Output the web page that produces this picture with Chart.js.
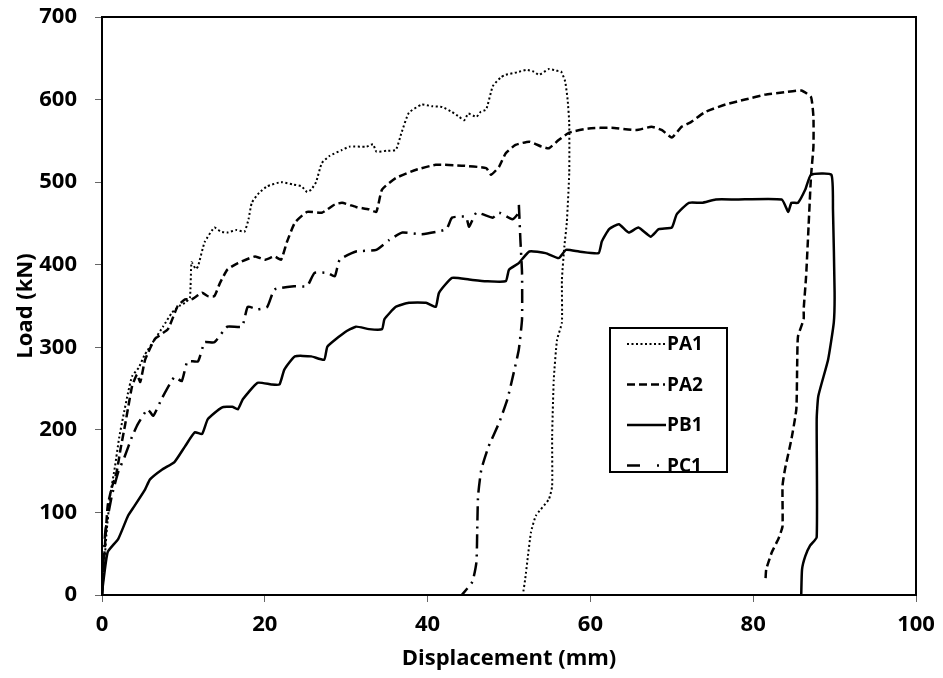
<!DOCTYPE html>
<html>
<head>
<meta charset="utf-8">
<script src="https://cdn.jsdelivr.net/npm/chart.js@4/dist/chart.umd.min.js"></script>
<style>
  html, body { margin: 0; padding: 0; background: #fff; }
  canvas { display: block; }
</style>
</head>
<body>
<canvas id="myChart" width="943" height="678"></canvas>
<script>
const ctx = document.querySelector('#myChart');

const seriesNames = ['PA1', 'PA2', 'PB1', 'PC1']

// displacement (mm) / load (kN) pairs for each specimen
const pa1Disp = [0, 0.3, 0.6, 1.0, 1.6, 2.1, 2.6, 3.2, 3.7, 4.5, 5.2, 6.5, 7.5, 8.6, 9.5, 10.2, 10.8, 11.0, 11.5, 11.8, 12.6, 13.8, 14.6, 15.4, 16.5, 17.5, 18.0, 18.4, 19.3, 20.3, 22.0, 23.5, 24.5, 25.2, 25.7, 26.3, 27.0, 28.0, 29.5, 30.4, 32.5, 33.3, 33.7, 35.0, 36.1, 36.8, 37.7, 39.3, 40.5, 41.8, 43.0, 43.9, 44.5, 45.0, 46.0, 46.5, 47.2, 48.0, 49.0, 49.6, 51.0, 52.1, 53.0, 53.7, 54.9, 55.8, 56.4, 56.9, 57.2, 57.4, 57.4, 57.1, 56.8, 56.5, 56.5, 55.9, 55.5, 55.3, 55.3, 54.9, 53.3, 52.7, 52.3, 52.0, 51.7]
const pa1Load = [0, 40, 80, 120, 156, 190, 216, 245, 265, 275, 290, 310, 325, 342, 350, 354, 360, 403, 395, 398, 427, 445, 440, 439, 442, 440, 455, 475, 487, 495, 500, 497, 495, 488, 491, 500, 523, 532, 539, 543, 543, 546, 537, 538, 539, 560, 584, 594, 592, 591, 585, 579, 575, 583, 579, 585, 588, 616, 627, 630, 633, 636, 634, 630, 637, 635, 634, 622, 600, 572, 511, 451, 422, 382, 330, 309, 261, 192, 132, 116, 96, 76, 45, 20, 0]

const pa2Disp = [0, 0.3, 0.7, 1.2, 1.8, 2.3, 2.8, 3.3, 3.7, 4.3, 4.7, 5.3, 6.5, 8.1, 9.3, 10.2, 11.0, 12.3, 13.0, 13.8, 14.5, 15.4, 16.7, 18.8, 20.0, 21.2, 22.0, 22.7, 23.7, 25.2, 27.0, 28.6, 29.5, 31.2, 32.8, 33.7, 34.4, 36.1, 38.6, 41.0, 44.2, 47.2, 47.8, 48.8, 49.6, 50.8, 52.5, 54.0, 54.9, 56.1, 57.4, 59.8, 62.6, 65.6, 67.5, 68.8, 70.0, 71.2, 72.4, 74.1, 76.6, 79.0, 81.5, 83.9, 85.9, 87.1, 87.4, 87.4, 87.1, 86.8, 86.5, 86.2, 86.2, 85.5, 85.4, 85.3, 84.7, 83.9, 83.6, 83.6, 83.1, 82.3, 81.6, 81.5]
const pa2Load = [0, 50, 108, 130, 149, 178, 204, 232, 253, 267, 258, 285, 310, 322, 350, 358, 358, 366, 362, 362, 378, 394, 402, 410, 406, 410, 406, 427, 451, 464, 463, 473, 475, 470, 467, 464, 491, 505, 515, 521, 520, 517, 509, 519, 535, 545, 549, 543, 541, 551, 560, 565, 566, 563, 567, 563, 554, 567, 573, 585, 594, 600, 606, 609, 611, 603, 579, 543, 507, 446, 386, 346, 334, 313, 277, 225, 189, 152, 132, 83, 68, 52, 31, 16]

const pb1Disp = [0, 0.1, 0.7, 2.0, 3.2, 4.0, 5.3, 5.9, 7.4, 8.9, 10.2, 11.4, 12.3, 13.0, 14.7, 16.0, 16.7, 17.3, 19.1, 20.8, 21.8, 22.4, 23.7, 25.7, 27.3, 27.7, 29.8, 31.2, 32.8, 34.4, 34.7, 36.1, 37.7, 39.8, 41.0, 41.4, 43.0, 45.1, 47.2, 49.6, 50.0, 51.2, 52.5, 54.5, 56.1, 57.0, 58.6, 61.0, 61.4, 62.3, 63.5, 64.7, 65.9, 67.4, 68.4, 70.0, 70.6, 72.1, 73.7, 75.4, 77.8, 83.5, 84.3, 84.7, 85.5, 86.4, 87.1, 89.6, 89.8, 90.0, 89.9, 89.2, 88.0, 87.8, 87.8, 87.0, 86.4, 86.0, 85.9]
const pb1Load = [0, 11, 52, 68, 96, 108, 128, 140, 152, 161, 180, 197, 195, 213, 227, 228, 225, 237, 257, 255, 255, 273, 289, 289, 285, 301, 318, 325, 322, 322, 334, 349, 354, 354, 349, 366, 384, 382, 380, 380, 394, 402, 416, 414, 408, 418, 416, 414, 428, 443, 449, 439, 445, 434, 443, 445, 461, 475, 475, 479, 479, 479, 464, 475, 475, 491, 509, 509, 467, 366, 330, 285, 241, 213, 70, 60, 47, 31, 0]

const pc1Disp = [0, 0.4, 1.2, 2.0, 2.8, 3.7, 4.4, 5.6, 6.3, 7.4, 8.9, 9.8, 10.5, 11.8, 12.6, 13.8, 15.4, 17.2, 17.9, 19.1, 20.3, 21.2, 23.7, 25.2, 26.1, 27.7, 28.6, 29.2, 31.2, 33.7, 35.3, 36.9, 39.3, 42.3, 43.0, 44.7, 45.1, 46.0, 48.0, 48.8, 50.4, 51.2, 51.2, 51.4, 51.6, 51.6, 51.2, 50.6, 49.8, 48.8, 47.5, 46.6, 46.2, 46.1, 46.0, 45.5, 44.2]
const pc1Load = [0, 76, 120, 149, 168, 192, 207, 225, 217, 239, 264, 259, 283, 283, 306, 306, 325, 325, 349, 346, 349, 370, 374, 374, 390, 390, 386, 406, 416, 418, 430, 439, 437, 443, 457, 458, 446, 463, 457, 463, 455, 463, 475, 430, 390, 334, 297, 270, 237, 209, 180, 152, 120, 80, 40, 16, 0]

const xTicks = [0, 20, 40, 60, 80, 100]
const yTicks = [0, 100, 200, 300, 400, 500, 600, 700]

const dashes = [[2, 2.5], [8, 4], [], [14, 6, 2, 6]]
const legendDashes = [[2, 2.5], [8, 4, 8, 4, 8, 4, 2, 100], [], [13, 17, 2, 100]]
const widths = [2, 2.5, 2.5, 2.5]

function toPoints(xs, ys) {
  return xs.map((x, i) => ({ x: x, y: ys[i] }))
}

const curves = [
  toPoints(pa1Disp, pa1Load),
  toPoints(pa2Disp, pa2Load),
  toPoints(pb1Disp, pb1Load),
  toPoints(pc1Disp, pc1Load)
]

const font = { family: '"Open Sans", sans-serif', weight: 'bold', size: 22 }

// box around the whole plot area
const frame = {
  id: 'frame',
  afterDraw(chart) {
    const { ctx, chartArea: a } = chart
    ctx.save()
    ctx.strokeStyle = '#000'
    ctx.lineWidth = 2
    ctx.strokeRect(a.left, a.top, a.right - a.left, a.bottom - a.top)
    ctx.restore()
  }
}

// legend drawn inside the plot, with a sample of each line style
const insideLegend = {
  id: 'insideLegend',
  afterDraw(chart) {
    const { ctx } = chart
    const x0 = 610, y0 = 328, w = 117, h = 144
    ctx.save()
    ctx.fillStyle = '#fff'
    ctx.fillRect(x0, y0, w, h)
    ctx.strokeStyle = '#000'
    ctx.lineWidth = 2
    ctx.strokeRect(x0, y0, w, h)
    ctx.font = 'bold 19px "Open Sans", sans-serif'
    ctx.textBaseline = 'middle'
    ctx.fillStyle = '#000'
    chart.data.datasets.forEach((ds, i) => {
      const y = y0 + 16 + i * 40.5
      ctx.beginPath()
      ctx.setLineDash(legendDashes[i])
      ctx.lineWidth = ds.borderWidth
      ctx.moveTo(x0 + 17, y)
      ctx.lineTo(x0 + 56, y)
      ctx.stroke()
      ctx.setLineDash([])
      ctx.fillText(ds.label, x0 + 57, y + 1)
    })
    ctx.restore()
  }
}

const data = {
  datasets: seriesNames.map((name, i) => ({
    label: name,
    data: curves[i],
    showLine: true,
    borderColor: '#000',
    backgroundColor: '#000',
    borderWidth: widths[i],
    borderDash: dashes[i],
    pointRadius: 0,
    tension: 0.15,
    fill: false
  }))
}

const config = {
  type: 'scatter',
  data: data,
  options: {
    responsive: false,
    devicePixelRatio: 1,
    animation: false,
    layout: { padding: { top: 17, right: 27, bottom: 0, left: 0 } },
    plugins: {
      legend: { display: false },
      tooltip: { enabled: false }
    },
    scales: {
      x: {
        type: 'linear',
        min: 0,
        max: 100,
        afterBuildTicks: (s) => { s.ticks = xTicks.map(v => ({ value: v })) },
        afterFit: (s) => { s.height = 83; s.paddingLeft = 0; s.paddingRight = 0 },
        ticks: { color: '#000', font: font, padding: 10, maxRotation: 0 },
        grid: { drawOnChartArea: false, drawTicks: true, tickLength: 7, color: '#666' },
        border: { display: true, color: '#000', width: 2 },
        title: { display: true, text: 'Displacement (mm)', color: '#000', font: font, padding: { top: 0, bottom: 6 } }
      },
      y: {
        type: 'linear',
        min: 0,
        max: 700,
        afterBuildTicks: (s) => { s.ticks = yTicks.map(v => ({ value: v })) },
        afterFit: (s) => { s.width = 102; s.paddingTop = 0; s.paddingBottom = 0 },
        ticks: { color: '#000', font: font, padding: 18 },
        grid: { drawOnChartArea: false, drawTicks: true, tickLength: 7, color: '#666' },
        border: { display: true, color: '#000', width: 2 },
        title: { display: true, text: 'Load (kN)', color: '#000', font: font, padding: { top: 13, bottom: 0 } }
      }
    }
  },
  plugins: [frame, insideLegend]
};

const myChart = new Chart(ctx, config)
</script>
</body>
</html>
